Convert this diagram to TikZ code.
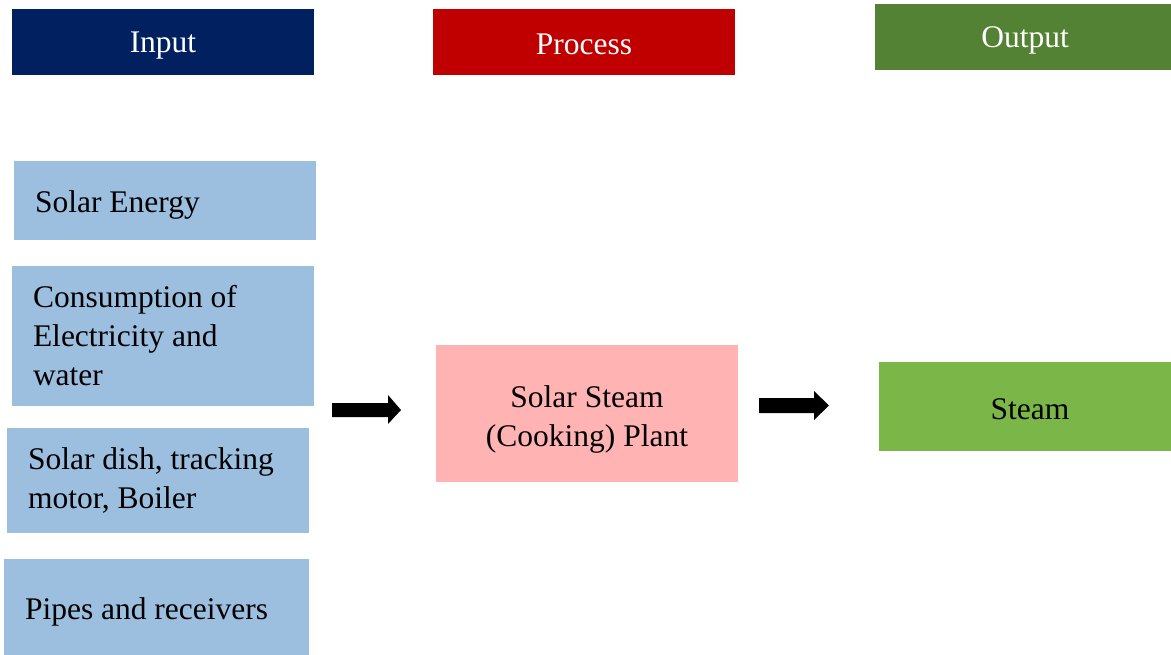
\documentclass[tikz,border=0pt]{standalone}
\usepackage{fontspec}
\setmainfont{Liberation Serif}
\definecolor{inputblue}{HTML}{002060}
\definecolor{processred}{HTML}{C00000}
\definecolor{outputgreen}{HTML}{548235}
\definecolor{itemblue}{HTML}{9CBFE0}
\definecolor{plantpink}{HTML}{FFB3B3}
\definecolor{steamgreen}{HTML}{7AB648}
\begin{document}
\begin{tikzpicture}[x=1pt,y=-1pt,
  every node/.style={font=\fontsize{31.5}{39}\selectfont},
  header/.style={rectangle, minimum width=302pt, minimum height=66pt, inner sep=0pt, fill=#1},
  headertext/.style={text=white, inner sep=0pt},
  itembox/.style={rectangle, fill=itemblue, inner sep=0pt},
  itemtext/.style={anchor=west, align=left, inner sep=0pt},
  blockarrow/.style={fill=black}
]
\useasboundingbox (0,0) rectangle (1171,655);

% column headers
\node[header=inputblue]  (hin)  at (163,42) {};
\node[header=processred] (hpro) at (584,42) {};
\node[header=outputgreen, minimum width=296pt] (hout) at (1023,37) {};
\node[headertext] (hint)   at ([yshift=-4pt]hin.center)  {Input};
\node[headertext] (hprot)  at ([yshift=-2pt]hpro.center) {Process};
\node[headertext] (houtt)  at ([shift={(2pt,-3pt)}]hout.center) {Output};

% input items
\node[itembox, minimum width=302pt, minimum height=79pt]  (solar) at (165,200.5) {};
\node[itembox, minimum width=302pt, minimum height=140pt] (elec)  at (163,336)   {};
\node[itembox, minimum width=302pt, minimum height=105pt] (dish)  at (158,480.5) {};
\node[itembox, minimum width=305pt, minimum height=96pt]  (pipes) at (156.5,607) {};
\node[itemtext] (solart) at ([shift={(21pt,-4pt)}]solar.west) {Solar Energy};
\node[itemtext] (elect)  at ([shift={(21pt,0pt)}]elec.west)   {Consumption of\\Electricity and\\water};
\node[itemtext] (disht)  at ([shift={(21pt,0pt)}]dish.west)   {Solar dish, tracking\\motor, Boiler};
\node[itemtext] (pipest) at ([shift={(21pt,-5pt)}]pipes.west) {Pipes and receivers};

% process and output
\node[rectangle, fill=plantpink, minimum width=302pt, minimum height=137pt] (plant) at (587,413.5) {};
\node[rectangle, fill=steamgreen, minimum width=292pt, minimum height=89pt] (steam) at (1025,406.5) {};
\node[align=center, inner sep=0pt] (plantt) at ([yshift=-6pt]plant.center) {Solar Steam\\(Cooking) Plant};
\node[inner sep=0pt] (steamt) at ([shift={(5pt,-3pt)}]steam.center) {Steam};

% block arrows between the columns
\coordinate (a1) at (332,410);
\coordinate (a2) at (759,405.5);
\fill[blockarrow] (a1) ++(0,-7) -- ++(56,0) -- ++(0,-8) -- ++(13,15) -- ++(-13,14) -- ++(0,-7) -- ++(-56,0) -- cycle;
\fill[blockarrow] (a2) ++(0,-7.5) -- ++(55,0) -- ++(0,-7) -- ++(15,14.5) -- ++(-15,14.5) -- ++(0,-7) -- ++(-55,0) -- cycle;
\end{tikzpicture}
\end{document}
